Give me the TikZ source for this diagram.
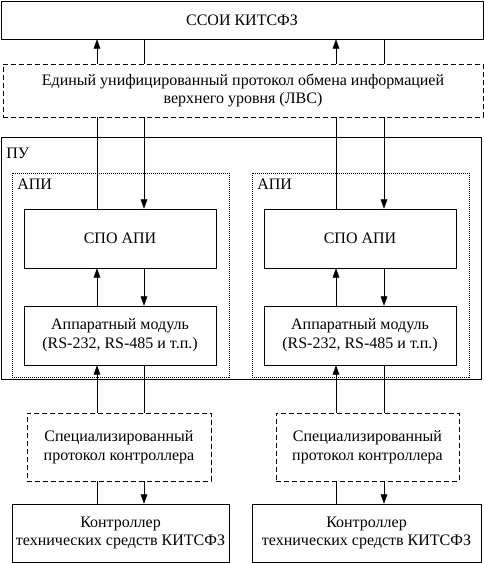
\documentclass[tikz,border=0pt]{standalone}
\usepackage{fontspec}
\setmainfont{Liberation Serif}
\usetikzlibrary{arrows.meta,calc}
\tikzset{>={Triangle[length=7pt,width=5pt]},line width=0.6pt,
  every node/.style={font=\fontsize{12}{14}\selectfont,align=center,inner sep=0pt},
  blok/.style={draw,rectangle},
  prot/.style={draw,rectangle,dash pattern=on 4pt off 2pt},
  gruppa/.style={draw,rectangle,line width=0.5pt,dash pattern=on 0.75pt off 0.75pt}}

\begin{document}
\begin{tikzpicture}[x=0.75pt,y=-0.75pt]
    \useasboundingbox (0,0) rectangle (484,563);
    % columns of connectors
    \coordinate (upL) at (97,0);   \coordinate (dnL) at (144,0);
    \coordinate (upR) at (336,0);  \coordinate (dnR) at (384,0);

    \node[blok,minimum width=361.5pt,minimum height=28.5pt] (ssoi) at (242,20) {ССОИ КИТСФЗ};
    \node[prot,minimum width=360pt,minimum height=39.75pt] (lvs) at (243,90.5)
        {Единый унифицированный протокол обмена информацией\\верхнего уровня (ЛВС)};
    \node[blok,minimum width=360pt,minimum height=181.5pt] (pu) at (241,258) {};
    \node[anchor=west] at (6,153) {ПУ};

    \foreach \s/\xc in {L/0,R/240}{
      \node[gruppa,minimum width=162.75pt,minimum height=153pt] (api\s) at (120.5+\xc,275) {};
      \node[anchor=west] at (17+\xc,184) {АПИ};
      \node[blok,minimum width=144pt,minimum height=44.25pt] (spo\s) at (120+\xc,238.5) {СПО АПИ};
      \node[blok,minimum width=144pt,minimum height=44.25pt] (hw\s) at (120+\xc,335.5)
          {Аппаратный модуль\\(RS-232, RS-485 и т.п.)};
    }
    \node[prot,minimum width=138pt,minimum height=51pt] (specL) at (119,447)
        {Специализированный\\протокол контроллера};
    \node[prot,minimum width=137.25pt,minimum height=51pt] (specR) at (367.5,447)
        {Специализированный\\протокол контроллера};
    \node[blok,minimum width=162.75pt,minimum height=43.5pt] (ctrlL) at (120.5,533)
        {Контроллер\\технических средств КИТСФЗ};
    \node[blok,minimum width=171.75pt,minimum height=43.5pt] (ctrlR) at (366.5,533)
        {Контроллер\\технических средств КИТСФЗ};

    % upward and downward flows
    \draw[->] (lvs.north -| upL) -- (ssoi.south -| upL);
    \draw (ssoi.south -| dnL) -- (lvs.north -| dnL);
    \draw[->] (lvs.north -| upR) -- (ssoi.south -| upR);
    \draw (ssoi.south -| dnR) -- (lvs.north -| dnR);
    \foreach \s/\u/\d in {L/upL/dnL,R/upR/dnR}{
      \draw (spo\s.north -| \u) -- (lvs.south -| \u);
      \draw[->] (lvs.south -| \d) -- (spo\s.north -| \d);
      \draw[->] (hw\s.north -| \u) -- (spo\s.south -| \u);
      \draw[->] (spo\s.south -| \d) -- (hw\s.north -| \d);
      \draw[->] (spec\s.north -| \u) -- (hw\s.south -| \u);
      \draw (hw\s.south -| \d) -- (spec\s.north -| \d);
      \draw (ctrl\s.north -| \u) -- (spec\s.south -| \u);
      \draw[->] (spec\s.south -| \d) -- (ctrl\s.north -| \d);
    }
\end{tikzpicture}
\end{document}
